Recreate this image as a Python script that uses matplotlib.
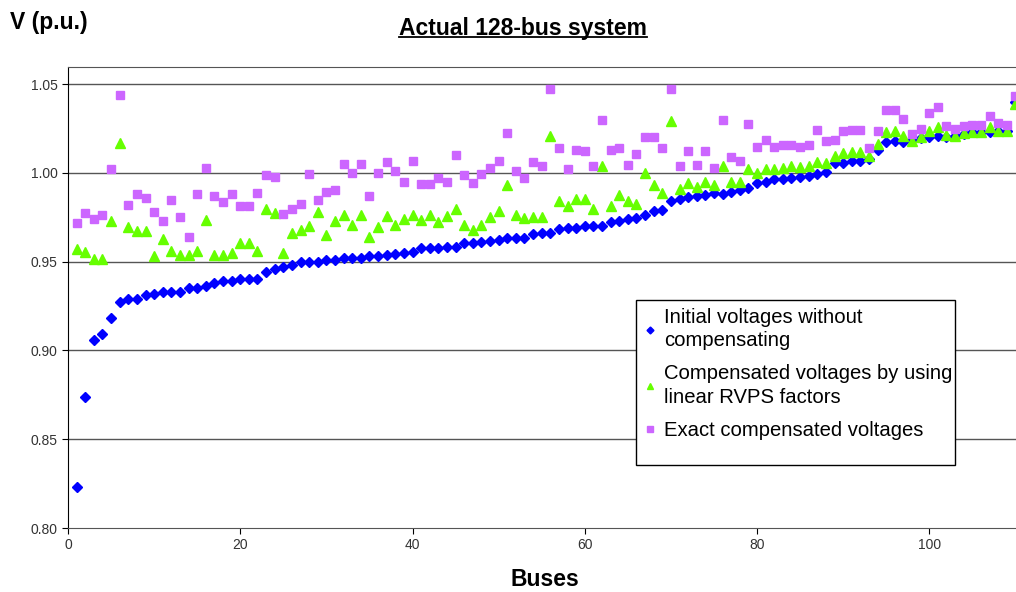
import numpy as np
import matplotlib
matplotlib.use('Agg')
import matplotlib.pyplot as plt
from matplotlib.lines import Line2D
from matplotlib.patches import Rectangle

plt.rcParams['font.family'] = ['Liberation Sans', 'DejaVu Sans']

# bus index 1..110
buses = np.arange(1, 111)

# initial voltages without compensating (sorted)
v_initial = [
    0.823, 0.874, 0.906, 0.909, 0.918, 0.927, 0.929, 0.929, 0.931, 0.932,
    0.933, 0.933, 0.933, 0.935, 0.935, 0.936, 0.938, 0.939, 0.939, 0.940,
    0.940, 0.940, 0.944, 0.946, 0.947, 0.948, 0.950, 0.950, 0.950, 0.951,
    0.951, 0.952, 0.952, 0.952, 0.953, 0.953, 0.954, 0.9545, 0.955, 0.9554,
    0.9577, 0.9577, 0.9579, 0.9582, 0.9582, 0.9607, 0.9607, 0.961, 0.9614, 0.9624,
    0.9633, 0.9633, 0.9635, 0.9657, 0.9661, 0.9661, 0.9685, 0.9689, 0.9689, 0.9699,
    0.970, 0.970, 0.9723, 0.9727, 0.9738, 0.9745, 0.976, 0.9785, 0.9788, 0.9841,
    0.985, 0.9863, 0.9869, 0.9878, 0.9884, 0.9882, 0.9891, 0.9906, 0.9914, 0.9944,
    0.9948, 0.9963, 0.9966, 0.9972, 0.9976, 0.9981, 0.9991, 1.0004, 1.0056, 1.0056,
    1.0064, 1.0069, 1.0079, 1.0131, 1.0172, 1.0178, 1.0176, 1.0187, 1.0197, 1.020,
    1.021, 1.0204, 1.021, 1.0219, 1.0228, 1.0232, 1.0228, 1.0238, 1.0238, 1.0397,
]

# compensated voltages by using linear RVPS factors
v_linear = [
    0.957, 0.9555, 0.9515, 0.9515, 0.973, 1.017, 0.9695, 0.967, 0.967, 0.953,
    0.963, 0.956, 0.9535, 0.954, 0.956, 0.9735, 0.954, 0.9536, 0.9549, 0.9605,
    0.9605, 0.956, 0.9794, 0.9775, 0.9549, 0.9661, 0.9676, 0.970, 0.9779, 0.9652,
    0.9728, 0.9764, 0.9704, 0.9764, 0.9639, 0.9695, 0.9757, 0.9708, 0.9738, 0.976,
    0.9732, 0.9764, 0.9723, 0.9755, 0.9794, 0.9704, 0.9676, 0.9708, 0.9751, 0.9783,
    0.9929, 0.976, 0.9745, 0.9751, 0.9751, 1.021, 0.9839, 0.9811, 0.985, 0.985,
    0.9794, 1.0041, 0.9813, 0.9876, 0.9841, 0.9826, 0.9998, 0.9933, 0.9888, 1.029,
    0.991, 0.9944, 0.9923, 0.9951, 0.9929, 1.0041, 0.9948, 0.9951, 1.0022, 1.000,
    1.0022, 1.0022, 1.0026, 1.0036, 1.0032, 1.0037, 1.006, 1.0056, 1.0097, 1.0112,
    1.0116, 1.012, 1.0097, 1.0163, 1.0228, 1.0234, 1.021, 1.0182, 1.0204, 1.0238,
    1.0257, 1.0213, 1.021, 1.0223, 1.0232, 1.0232, 1.0257, 1.0238, 1.0238, 1.0388,
]

# exact compensated voltages
v_exact = [
    0.972, 0.9775, 0.974, 0.976, 1.002, 1.044, 0.982, 0.988, 0.986, 0.978,
    0.973, 0.9845, 0.975, 0.964, 0.988, 1.003, 0.987, 0.9835, 0.988, 0.9816,
    0.9816, 0.9888, 0.999, 0.9974, 0.9768, 0.9798, 0.9826, 0.9994, 0.9848, 0.9893,
    0.9903, 1.005, 1.000, 1.005, 0.9869, 0.9998, 1.006, 1.0013, 0.995, 1.0069,
    0.9938, 0.9938, 0.997, 0.9948, 1.0099, 0.9989, 0.9944, 0.9994, 1.0028, 1.0069,
    1.0225, 1.0009, 0.997, 1.006, 1.0037, 1.0472, 1.014, 1.0022, 1.0131, 1.0122,
    1.0037, 1.030, 1.0131, 1.0142, 1.0045, 1.0107, 1.0202, 1.0199, 1.014, 1.0472,
    1.0041, 1.0122, 1.0045, 1.0122, 1.0026, 1.0298, 1.0088, 1.0066, 1.0275, 1.0148,
    1.0185, 1.0148, 1.0154, 1.0159, 1.0148, 1.0159, 1.0242, 1.0178, 1.0187, 1.0234,
    1.0242, 1.0242, 1.0139, 1.0238, 1.0354, 1.0356, 1.0303, 1.0219, 1.0247, 1.0337,
    1.0369, 1.0262, 1.0247, 1.0262, 1.027, 1.027, 1.0318, 1.0279, 1.0272, 1.0431,
]

labels = ['Initial voltages without\ncompensating',
          'Compensated voltages by using\nlinear RVPS factors',
          'Exact compensated voltages']
yticks = [0.80, 0.85, 0.90, 0.95, 1.00, 1.05]
xticks = [0, 20, 40, 60, 80, 100]

W, H = 1016, 592
fig = plt.figure(figsize=(W / 100, H / 100), dpi=100)
ax = fig.add_axes([68 / W, 1 - 528 / H, (W - 68) / W, (528 - 67) / H])

ax.set_xlim(0, (W - 68.3) / 8.61)
ax.set_ylim(0.80, 1.0596)

for y in yticks[1:]:
    ax.axhline(y, color='#555555', lw=1, zorder=1)

ax.plot(buses, v_initial, 'D', ms=5, color='#0000FF', mec='#0000FF', label=labels[0], zorder=3)
ax.plot(buses, v_linear, '^', ms=7, color='#66FF00', mec='#66FF00', label=labels[1], zorder=4)
ax.plot(buses, v_exact, 's', ms=6, color='#CC66FF', mec='#CC66FF', label=labels[2], zorder=5)

ax.set_yticks(yticks)
ax.set_yticklabels(['%.2f' % t for t in yticks])
ax.set_xticks(xticks)
ax.tick_params(direction='out', length=4, labelsize=10, labelcolor='#333333', color='black')
ax.spines['right'].set_visible(False)
ax.spines['top'].set_color('#555555')
ax.spines['left'].set_color('black')
ax.spines['bottom'].set_color('#555555')

# legend box
fig.patches.append(Rectangle((636 / W, 1 - 465 / H), (955 - 636) / W, (465 - 300) / H,
                             transform=fig.transFigure, fill=True, facecolor='white',
                             edgecolor='black', lw=1, zorder=10))
leg = fig.legend(loc='upper left', bbox_to_anchor=(640 / W, 1 - 304 / H), frameon=False,
                 fontsize=14.6, handlelength=0.6, handletextpad=0.4, labelspacing=0.7,
                 markerscale=0.7, borderpad=0.2, borderaxespad=0)
for t in leg.get_texts():
    t.set_linespacing(1.28)
leg.set_zorder(11)

fig.text(10 / W, 1 - 22 / H, 'V (p.u.)', fontsize=16.5, fontweight='bold', ha='left', va='center')
title = fig.text(523 / W, 1 - 28 / H, 'Actual 128-bus system', fontsize=16.5, fontweight='bold',
                 ha='center', va='center')
fig.text(545 / W, 1 - 580 / H, 'Buses', fontsize=16.5, fontweight='bold', ha='center', va='center')

# underline the title
fig.canvas.draw()
bb = title.get_window_extent().transformed(fig.transFigure.inverted())
fig.add_artist(Line2D([bb.x0, bb.x1], [bb.y0 + 0.004, bb.y0 + 0.004], color='black', lw=1.3,
                      transform=fig.transFigure))

fig.savefig('out.png', dpi=100)
